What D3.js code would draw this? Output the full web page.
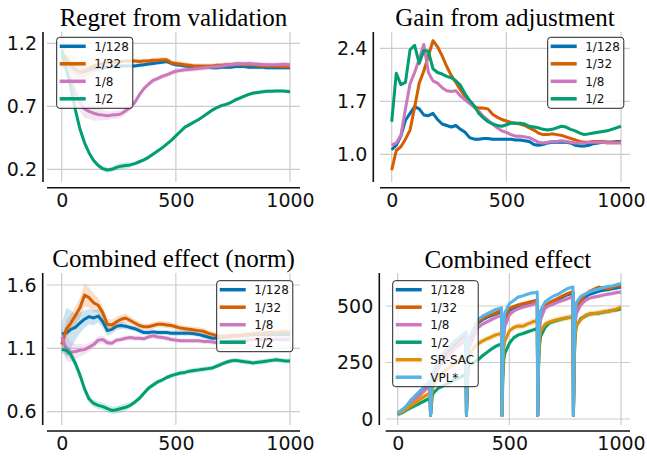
<!DOCTYPE html>
<html>
<head>
<meta charset="utf-8">
<script src="https://cdn.jsdelivr.net/npm/d3@7"></script>
<style>
  body { margin: 0; background: #fff; }
  svg { display: block; }
</style>
</head>
<body>
<svg id="chart" width="647" height="456"></svg>
<script>
// ---------- data ----------
const scaleLabels = ["1/128", "1/32", "1/8", "1/2"];
const baselineLabels = ["SR-SAC", "VPL*"];
const xTickValues = [0, 500, 1000];

// evaluation steps shared by the three normalised panels
const steps = d3.range(0, 1001, 20);

// Regret from validation
const regret128 = [1.10,1.06,1.02,0.99,0.97,0.975,0.99,1.0,1.005,1.01,
  1.01,1.015,1.015,1.02,1.02,1.02,1.02,1.025,1.03,1.035,
  1.04,1.045,1.05,1.055,1.04,1.03,1.025,1.02,1.015,1.015,
  1.015,1.01,1.01,1.005,1.005,1.01,1.01,1.01,1.015,1.015,
  1.015,1.01,1.01,1.01,1.01,1.005,1.005,1.005,1.005,1.005,1.005];
const regret32 = [1.12,1.08,1.03,0.99,0.97,0.98,1.0,1.02,1.03,1.04,
  1.045,1.05,1.05,1.055,1.06,1.06,1.06,1.055,1.06,1.06,
  1.065,1.065,1.07,1.07,1.045,1.04,1.035,1.03,1.025,1.02,
  1.02,1.02,1.02,1.02,1.025,1.025,1.03,1.03,1.035,1.035,
  1.03,1.03,1.03,1.025,1.02,1.02,1.02,1.02,1.015,1.015,1.015];
const regret8 = [1.05,0.99,0.90,0.80,0.73,0.68,0.66,0.645,0.635,0.63,
  0.625,0.63,0.632,0.64,0.665,0.69,0.73,0.79,0.84,0.875,
  0.905,0.92,0.937,0.95,0.965,0.978,0.985,0.99,0.993,0.996,
  1.0,1.004,1.008,1.012,1.016,1.02,1.025,1.03,1.033,1.036,
  1.038,1.04,1.036,1.034,1.032,1.03,1.03,1.03,1.032,1.034,1.03];
const regret2 = [1.15,1.0,0.85,0.67,0.52,0.41,0.33,0.27,0.23,0.205,
  0.195,0.20,0.215,0.225,0.23,0.235,0.245,0.26,0.275,0.295,
  0.32,0.345,0.37,0.40,0.43,0.465,0.50,0.535,0.555,0.575,
  0.595,0.62,0.645,0.67,0.69,0.705,0.715,0.73,0.75,0.765,
  0.78,0.795,0.805,0.81,0.815,0.82,0.82,0.822,0.822,0.82,0.815];
const regretBand128 = [0.04,0.05,0.05,0.05,0.04,0.04,0.03,0.03,0.025,0.02,
  0.015,0.015,0.015,0.015,0.015,0.015,0.015,0.015,0.015,0.015,
  0.015,0.015,0.015,0.015,0.015,0.015,0.015,0.015,0.015,0.015,
  0.015,0.015,0.015,0.015,0.015,0.015,0.015,0.015,0.015,0.015,
  0.015,0.015,0.015,0.015,0.015,0.015,0.015,0.015,0.015,0.015,0.015];
const regretBand32 = [0.05,0.07,0.09,0.1,0.1,0.09,0.08,0.07,0.06,0.05,
  0.04,0.03,0.025,0.02,0.02,0.02,0.02,0.02,0.02,0.02,
  0.02,0.02,0.02,0.02,0.02,0.02,0.02,0.02,0.02,0.02,
  0.02,0.02,0.02,0.02,0.02,0.02,0.02,0.02,0.02,0.02,
  0.02,0.02,0.02,0.02,0.02,0.02,0.02,0.02,0.02,0.02,0.02];
const regretBand8 = [0.04,0.05,0.06,0.07,0.07,0.07,0.06,0.06,0.05,0.04,
  0.035,0.03,0.03,0.03,0.03,0.025,0.02,0.02,0.02,0.02,
  0.02,0.02,0.02,0.02,0.02,0.02,0.02,0.02,0.02,0.02,
  0.02,0.02,0.02,0.02,0.02,0.02,0.02,0.02,0.02,0.02,
  0.02,0.02,0.02,0.02,0.02,0.02,0.02,0.02,0.02,0.02,0.02];
const regretBand2 = [0.03,0.04,0.04,0.03,0.03,0.025,0.02,0.02,0.02,0.02,
  0.02,0.02,0.025,0.025,0.025,0.02,0.015,0.015,0.015,0.015,
  0.015,0.015,0.015,0.015,0.015,0.015,0.015,0.015,0.015,0.015,
  0.015,0.015,0.015,0.015,0.015,0.015,0.015,0.015,0.015,0.015,
  0.015,0.015,0.015,0.015,0.015,0.015,0.015,0.015,0.015,0.015,0.015];

// Gain from adjustment
const gain128 = [1.06,1.12,1.24,1.45,1.54,1.63,1.60,1.52,1.51,1.54,
  1.46,1.40,1.38,1.36,1.38,1.33,1.29,1.22,1.20,1.20,
  1.21,1.21,1.20,1.20,1.20,1.20,1.20,1.19,1.19,1.18,
  1.17,1.13,1.12,1.13,1.15,1.16,1.16,1.16,1.16,1.15,
  1.12,1.11,1.11,1.12,1.14,1.15,1.16,1.16,1.16,1.17,1.17];
const gain32 = [0.79,1.05,1.10,1.20,1.32,1.62,1.94,2.10,2.30,2.50,
  2.42,2.30,2.16,2.04,1.95,1.85,1.76,1.68,1.63,1.61,
  1.61,1.60,1.53,1.49,1.46,1.44,1.42,1.41,1.40,1.38,
  1.35,1.32,1.28,1.26,1.26,1.27,1.26,1.25,1.23,1.21,
  1.19,1.17,1.16,1.16,1.17,1.17,1.17,1.16,1.16,1.16,1.16];
const gain8 = [1.12,1.15,1.25,1.60,1.93,2.08,2.26,2.45,2.08,1.97,
  1.94,1.88,1.84,1.83,1.84,1.77,1.72,1.67,1.62,1.57,
  1.50,1.45,1.40,1.35,1.31,1.29,1.26,1.24,1.24,1.23,
  1.22,1.19,1.16,1.15,1.16,1.17,1.17,1.18,1.17,1.16,
  1.15,1.15,1.15,1.16,1.16,1.16,1.16,1.15,1.15,1.15,1.15];
const gain2 = [1.43,2.07,1.92,1.95,2.38,2.44,2.20,2.37,2.36,2.13,
  2.08,2.06,2.03,2.01,1.97,1.91,1.80,1.71,1.64,1.54,
  1.48,1.43,1.40,1.38,1.37,1.39,1.41,1.41,1.41,1.40,
  1.37,1.36,1.35,1.33,1.32,1.33,1.35,1.37,1.36,1.33,
  1.31,1.28,1.26,1.27,1.28,1.29,1.30,1.31,1.33,1.35,1.37];
const gainBand = [0.02, 0.02, 0.02, 0.02];

// Combined effect (norm)
const norm128 = [1.215,1.22,1.25,1.265,1.30,1.33,1.35,1.34,1.355,1.31,
  1.24,1.25,1.275,1.28,1.275,1.265,1.255,1.24,1.225,1.225,
  1.23,1.225,1.225,1.225,1.22,1.22,1.22,1.22,1.22,1.215,
  1.21,1.20,1.19,1.18,1.18,1.185,1.19,1.195,1.20,1.20,
  1.205,1.205,1.21,1.21,1.21,1.21,1.21,1.21,1.21,1.21,1.21];
const norm32 = [1.13,1.25,1.30,1.36,1.42,1.52,1.50,1.46,1.44,1.38,
  1.29,1.285,1.31,1.33,1.34,1.32,1.30,1.28,1.27,1.27,
  1.28,1.29,1.29,1.285,1.28,1.27,1.26,1.255,1.25,1.245,
  1.24,1.235,1.22,1.21,1.2,1.195,1.195,1.2,1.2,1.2,
  1.205,1.21,1.215,1.22,1.22,1.225,1.225,1.225,1.23,1.23,1.23];
const norm8 = [1.19,1.10,1.07,1.075,1.085,1.09,1.11,1.13,1.165,1.17,
  1.145,1.14,1.165,1.17,1.18,1.185,1.18,1.18,1.175,1.19,
  1.2,1.19,1.185,1.18,1.17,1.165,1.16,1.16,1.16,1.16,
  1.16,1.155,1.155,1.15,1.145,1.15,1.155,1.16,1.16,1.16,
  1.165,1.165,1.17,1.17,1.17,1.17,1.17,1.17,1.17,1.17,1.17];
const norm2 = [1.09,1.085,1.05,0.98,0.89,0.78,0.70,0.665,0.65,0.64,
  0.625,0.61,0.615,0.625,0.635,0.65,0.675,0.705,0.745,0.785,
  0.81,0.835,0.85,0.87,0.885,0.895,0.905,0.91,0.92,0.925,
  0.93,0.935,0.94,0.945,0.96,0.975,0.99,1.0,1.005,1.0,
  0.995,0.99,0.985,0.99,0.995,1.0,1.005,1.01,1.005,1.0,1.0];
const normBand128 = [0.08,0.2,0.15,0.1,0.08,0.07,0.06,0.06,0.05,0.05,
  0.04,0.035,0.03,0.03,0.025,0.02,0.02,0.02,0.02,0.02,
  0.02,0.02,0.02,0.02,0.02,0.02,0.02,0.02,0.02,0.02,
  0.02,0.02,0.02,0.02,0.02,0.02,0.02,0.02,0.02,0.02,
  0.02,0.02,0.02,0.02,0.02,0.02,0.02,0.02,0.02,0.02,0.02];
const normBand32 = [0.05,0.07,0.07,0.07,0.08,0.09,0.08,0.07,0.06,0.05,
  0.045,0.04,0.04,0.035,0.035,0.03,0.03,0.03,0.025,0.025,
  0.025,0.025,0.025,0.025,0.025,0.025,0.025,0.025,0.025,0.025,
  0.025,0.025,0.025,0.025,0.025,0.025,0.025,0.025,0.025,0.025,
  0.025,0.025,0.025,0.025,0.025,0.025,0.025,0.025,0.025,0.025,0.025];
const normBand8 = [0.06,0.1,0.08,0.06,0.05,0.04,0.035,0.03,0.03,0.03,
  0.03,0.02,0.02,0.02,0.02,0.02,0.02,0.02,0.02,0.02,
  0.02,0.02,0.02,0.02,0.02,0.02,0.02,0.02,0.02,0.02,
  0.02,0.02,0.02,0.02,0.02,0.02,0.02,0.02,0.02,0.02,
  0.02,0.02,0.02,0.02,0.02,0.02,0.02,0.02,0.02,0.02,0.02];
const normBand2 = [0.03,0.04,0.04,0.04,0.04,0.035,0.03,0.03,0.03,0.03,
  0.03,0.03,0.03,0.03,0.03,0.025,0.02,0.02,0.02,0.02,
  0.02,0.02,0.02,0.02,0.02,0.02,0.02,0.02,0.02,0.02,
  0.02,0.02,0.02,0.02,0.02,0.02,0.02,0.02,0.02,0.02,
  0.02,0.02,0.02,0.02,0.02,0.02,0.02,0.02,0.02,0.02,0.02];

// Combined effect (raw return); evaluation steps include the resets
const rawSteps = [0,20,40,60,80,100,120,140, 145,147,151,155,
  160,180,200,220,240,260,280,300, 306,308,312,316,
  320,340,360,380,400,420,440,460, 465,467,471,475,
  480,500,520,540,560,580,600,620, 625,627,631,635,
  640,660,680,700,720,740,760,780, 785,787,791,795,
  800,820,840,860,880,900,920,940,960,980,1000];
const raw128 = [25,40,55,78,98,118,138,155, 158,15,105,175,
  195,240,270,295,315,335,350,365, 370,15,235,315,
  345,385,425,440,450,458,465,475, 478,15,285,395,
  445,480,492,498,503,508,512,518, 520,15,305,415,
  455,495,510,520,530,540,550,556, 558,15,325,440,
  480,520,540,552,558,565,570,572,576,580,584];
const raw32 = [25,40,55,80,100,120,140,158, 162,15,110,180,
  200,245,275,300,320,340,355,370, 375,15,240,320,
  350,390,430,445,455,462,470,480, 483,15,290,400,
  450,488,498,505,510,515,520,525, 527,15,310,420,
  460,500,515,525,535,545,555,562, 563,15,330,450,
  490,525,550,565,575,583,580,577,582,588,590];
const raw8 = [25,38,50,70,88,105,125,140, 143,15,95,160,
  180,220,250,275,295,315,330,345, 350,15,210,290,
  320,360,405,420,430,440,450,458, 460,15,260,360,
  410,460,478,488,495,500,505,512, 514,15,280,390,
  440,490,502,510,518,525,532,540, 541,15,300,420,
  465,505,525,535,540,543,548,552,555,560,562];
const raw2 = [20,28,40,50,60,70,80,90, 92,15,60,100,
  115,135,145,155,165,175,185,195, 198,15,150,215,
  240,250,262,280,295,310,322,330, 332,15,180,260,
  290,335,360,372,378,385,392,398, 400,15,230,320,
  365,405,425,432,438,444,448,451, 452,15,270,370,
  410,445,455,465,467,468,472,476,480,482,488];
const rawSRSAC = [25,32,45,60,72,88,100,112, 115,15,80,130,
  150,180,200,220,235,250,262,275, 278,15,180,250,
  280,315,333,345,355,363,372,378, 380,15,220,310,
  345,390,405,412,410,420,428,435, 436,15,250,350,
  390,420,430,436,440,445,448,452, 453,15,280,380,
  415,440,458,465,467,470,474,477,480,486,495];
const rawVPL = [25,40,60,85,105,125,145,165, 170,15,120,190,
  210,255,285,310,330,350,365,380, 385,15,250,330,
  360,400,440,455,465,475,485,490, 492,15,300,420,
  470,510,525,540,545,552,558,560, 562,15,330,440,
  480,518,533,545,553,565,577,583, 584,15,350,470,
  515,543,553,563,570,575,582,586,589,594,600];
const rawBand = [8, 8, 10, 10, 14, 8];

// ---------- styling ----------
const colors = {
  "1/128": "#0173b2", "1/32": "#d55e00", "1/8": "#cc78bc",
  "1/2": "#029e73", "SR-SAC": "#de8f05", "VPL*": "#56b4e9"
};
const sansFont = "'DejaVu Sans', sans-serif";
const serifFont = "'Liberation Serif', 'Times New Roman', serif";

const panels = [
  {
    title: "Regret from validation", titleY: 26,
    plot: [47, 32, 300, 182], xRange: [61.7, 290],
    yTicks: [0.2, 0.7, 1.2], yRange: [169.3, 43.3], fmt: ".1f",
    spineX: 43, spineY: 187.7, legend: [56.7, 37.3],
    xs: steps,
    series: [
      { name: "1/128", values: regret128, band: regretBand128 },
      { name: "1/32", values: regret32, band: regretBand32 },
      { name: "1/8", values: regret8, band: regretBand8 },
      { name: "1/2", values: regret2, band: regretBand2 }
    ]
  },
  {
    title: "Gain from adjustment", titleY: 26,
    plot: [380, 32, 630, 182], xRange: [391.7, 621],
    yTicks: [1.0, 1.7, 2.4], yRange: [154.3, 48.3], fmt: ".1f",
    spineX: 373.3, spineY: 187.7, legend: [547.7, 37.3],
    xs: steps,
    series: [
      { name: "1/128", values: gain128, band: gainBand[0] },
      { name: "1/32", values: gain32, band: gainBand[1] },
      { name: "1/8", values: gain8, band: gainBand[2] },
      { name: "1/2", values: gain2, band: gainBand[3] }
    ]
  },
  {
    title: "Combined effect (norm)", titleY: 266.7,
    plot: [47, 273, 300, 425], xRange: [61.7, 290],
    yTicks: [0.6, 1.1, 1.6], yRange: [411.7, 285], fmt: ".1f",
    spineX: 42.7, spineY: 431, legend: [216.7, 280.7],
    xs: steps,
    series: [
      { name: "1/128", values: norm128, band: normBand128 },
      { name: "1/32", values: norm32, band: normBand32 },
      { name: "1/8", values: norm8, band: normBand8 },
      { name: "1/2", values: norm2, band: normBand2 }
    ]
  },
  {
    title: "Combined effect", titleY: 268,
    plot: [385.7, 273, 630, 425], xRange: [397.7, 621],
    yTicks: [0, 250, 500], yRange: [419, 306], fmt: "d",
    spineX: 379.3, spineY: 431, legend: [392.7, 280.7],
    xs: rawSteps,
    series: [
      { name: "1/128", values: raw128, band: rawBand[0] },
      { name: "1/32", values: raw32, band: rawBand[1] },
      { name: "1/8", values: raw8, band: rawBand[2] },
      { name: "1/2", values: raw2, band: rawBand[3] },
      { name: "SR-SAC", values: rawSRSAC, band: rawBand[4] },
      { name: "VPL*", values: rawVPL, band: rawBand[5] }
    ]
  }
];

// ---------- drawing ----------
const svg = d3.select("#chart");
svg.append("rect").attr("width", 647).attr("height", 456).attr("fill", "#fff");
const defs = svg.append("defs");

panels.forEach((p, pi) => {
  const [px0, py0, px1, py1] = p.plot;
  const x = d3.scaleLinear().domain([0, 1000]).range(p.xRange);
  const y = d3.scaleLinear().domain([p.yTicks[0], p.yTicks[2]]).range(p.yRange);
  const g = svg.append("g");

  // grid
  g.append("g").selectAll("line").data(p.yTicks).join("line")
    .attr("x1", px0).attr("x2", px1)
    .attr("y1", d => y(d)).attr("y2", d => y(d))
    .attr("stroke", "#cccccc").attr("stroke-width", 1.2);
  g.append("g").selectAll("line").data(xTickValues).join("line")
    .attr("x1", d => x(d)).attr("x2", d => x(d))
    .attr("y1", py0).attr("y2", py1)
    .attr("stroke", "#cccccc").attr("stroke-width", 1.2);

  // series
  const clipId = "plot-clip-" + pi;
  defs.append("clipPath").attr("id", clipId).append("rect")
    .attr("x", px0).attr("y", py0).attr("width", px1 - px0).attr("height", py1 - py0);
  const marks = g.append("g").attr("clip-path", `url(#${clipId})`);

  p.series.forEach(s => {
    const pts = p.xs.map((xv, i) => ({
      x: xv, v: s.values[i], b: Array.isArray(s.band) ? s.band[i] : s.band
    }));
    const c = colors[s.name];
    marks.append("path").datum(pts)
      .attr("d", d3.area().x(d => x(d.x)).y0(d => y(d.v - d.b)).y1(d => y(d.v + d.b)))
      .attr("fill", c).attr("fill-opacity", 0.2).attr("stroke", "none");
    marks.append("path").datum(pts)
      .attr("d", d3.line().x(d => x(d.x)).y(d => y(d.v)))
      .attr("fill", "none").attr("stroke", c).attr("stroke-width", 3)
      .attr("stroke-linejoin", "round").attr("stroke-linecap", "butt");
  });

  // axes (offset spines, no tick marks)
  const xAxis = d3.axisBottom(x).tickValues(xTickValues).tickSize(0).tickPadding(5.5)
    .tickFormat(d3.format("d"));
  const xg = g.append("g").attr("transform", `translate(0,${p.spineY})`).call(xAxis);
  xg.select(".domain").remove();
  xg.selectAll("text").attr("font-size", 19).attr("font-family", sansFont).attr("fill", "#111");
  g.append("line").attr("x1", px0).attr("x2", px1).attr("y1", p.spineY).attr("y2", p.spineY)
    .attr("stroke", "#111").attr("stroke-width", 1.6);

  const yAxis = d3.axisLeft(y).tickValues(p.yTicks).tickSize(0).tickPadding(6)
    .tickFormat(d3.format(p.fmt));
  const yg = g.append("g").attr("transform", `translate(${p.spineX},0)`).call(yAxis);
  yg.select(".domain").remove();
  yg.selectAll("text").attr("font-size", 19).attr("font-family", sansFont).attr("fill", "#111");
  g.append("line").attr("x1", p.spineX).attr("x2", p.spineX).attr("y1", py0).attr("y2", py1)
    .attr("stroke", "#111").attr("stroke-width", 1.6);

  // title
  g.append("text").attr("x", (px0 + px1) / 2).attr("y", p.titleY)
    .attr("text-anchor", "middle").attr("font-family", serifFont)
    .attr("font-size", 25).attr("fill", "#000").text(p.title);

  // legend
  const [lx, ly] = p.legend;
  const rowGap = 17.5;
  const lg = g.append("g");
  const box = lg.append("rect").attr("x", lx).attr("y", ly).attr("rx", 3)
    .attr("fill", "#fff").attr("fill-opacity", 0.8)
    .attr("stroke", "#222").attr("stroke-width", 1);
  let maxW = 0;
  p.series.forEach((s, i) => {
    const cy = ly + 9 + i * rowGap;
    lg.append("line").attr("x1", lx + 3).attr("x2", lx + 29).attr("y1", cy).attr("y2", cy)
      .attr("stroke", colors[s.name]).attr("stroke-width", 3.5);
    const t = lg.append("text").attr("x", lx + 37.5).attr("y", cy).attr("dy", "0.36em")
      .attr("font-family", sansFont).attr("font-size", 12).attr("fill", "#111").text(s.name);
    maxW = Math.max(maxW, t.node().getComputedTextLength());
  });
  box.attr("width", 37.5 + maxW + 4).attr("height", 9 + rowGap * (p.series.length - 1) + 9.5);
});
</script>
</body>
</html>
